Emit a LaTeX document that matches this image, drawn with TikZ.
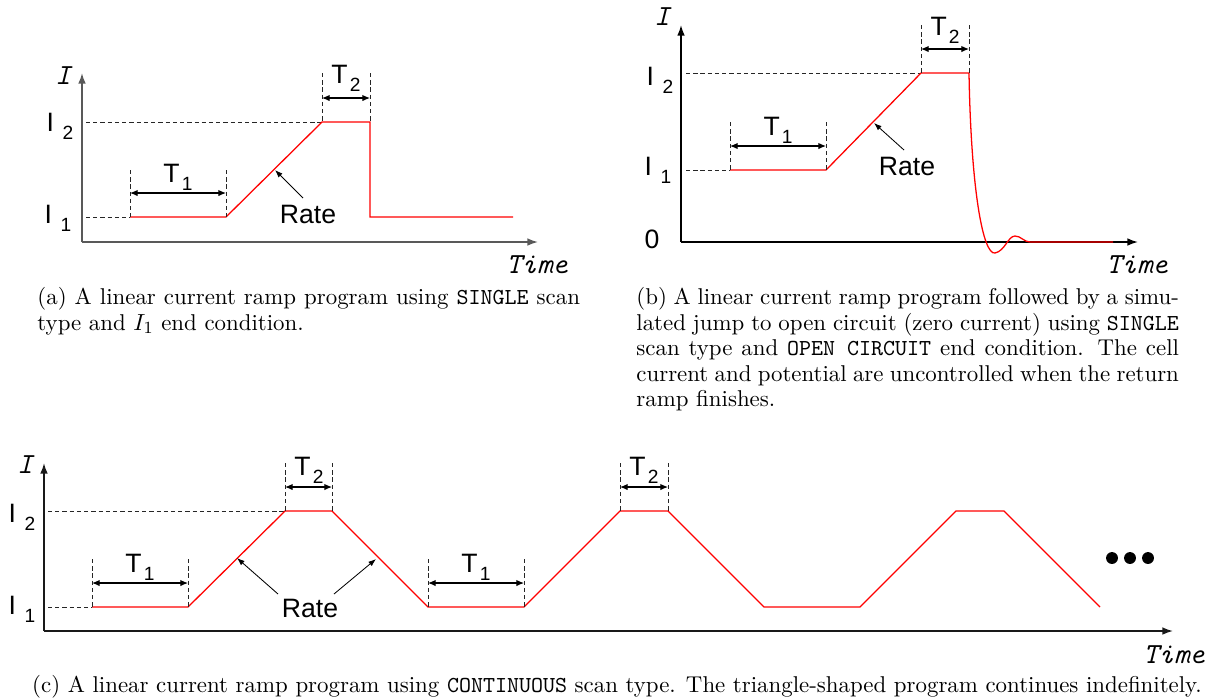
\documentclass[tikz,border=0pt]{standalone}
\usepackage{fontspec}
\usetikzlibrary{arrows.meta}
\newfontfamily\lsans{Liberation Sans}
\setlength\parindent{0pt}
\newcommand\sublab[3]{#1\hspace{#3}\raisebox{-4pt}{\fontsize{9}{10}\selectfont #2}}
\begin{document}
\begin{tikzpicture}[x=0.47pt,y=-0.47pt,
  axis/.style={line width=0.75pt,-{Latex[length=5pt,width=3.6pt]}},
  sig/.style={red,line width=0.6pt},
  guide/.style={dash pattern=on 2pt off 1.4pt,line width=0.4pt,black!85},
  span/.style={{Latex[length=3.6pt,width=3pt]}-{Latex[length=3.6pt,width=3pt]},line width=0.5pt},
  pointer/.style={-{Latex[length=3.6pt,width=2.6pt]},line width=0.4pt},
  lab/.style={font=\lsans\fontsize{12.5}{14}\selectfont,inner sep=0pt,anchor=base},
  axlab/.style={font=\ttfamily\itshape\fontsize{13.7}{15}\selectfont,inner sep=0pt},
  captext/.style={font=\fontsize{10.75}{12}\selectfont,inner sep=0pt,anchor=north west,text width=255pt,align=justify},
  dot/.style={circle,fill=black,inner sep=0pt,minimum size=5.6pt}]
\useasboundingbox (0,0) rectangle (1207,698);

% ================= panel (a) =================
\coordinate (ao) at (82,242);
\coordinate (ay) at (82,73);
\coordinate (ax) at (538,242);
\draw[axis,black!65] (ao) -- (ay);
\draw[axis,black!65] (ao) -- (ax);
\node[axlab] (aI) at (63,76) {I};
\node[axlab] (aT) at (537,265) {Time};
\coordinate (a1) at (130,217);
\coordinate (a2) at (226,217);
\coordinate (a3) at (322,122);
\coordinate (a4) at (370,122);
\coordinate (a5) at (370,217);
\coordinate (a6) at (513,217);
\draw[guide] (86,122) -- (a3);
\draw[guide] (86,217) -- (a1);
\draw[sig] (a1) -- (a2) -- (a3) -- (a4) -- (a5) -- (a6);
\node[lab] (aI2) at (60,131) {\sublab{I}{2}{4pt}};
\node[lab] (aI1) at (58,223) {\sublab{I}{1}{4pt}};
% T1
\coordinate (aT1l) at (130,170); \coordinate (aT1r) at (226,170);
\draw[guide] (aT1l) -- (a1); \draw[guide] (aT1r) -- (a2);
\draw[span] (130,193) -- (226,193);
\node[lab] (aT1) at (178,182) {\sublab{T}{1}{1pt}};
% T2
\coordinate (aT2l) at (322,73); \coordinate (aT2r) at (370,73);
\draw[guide] (aT2l) -- (a3); \draw[guide] (aT2r) -- (a4);
\draw[span] (322,98) -- (370,98);
\node[lab] (aT2) at (346,83) {\sublab{T}{2}{1pt}};
% Rate
\node[lab] (aR) at (308,223) {Rate};
\coordinate (aRt) at (303,198); \coordinate (aRh) at (275,170);
\draw[pointer] (aRt) -- (aRh);
\node[captext] (acap) at (37,287) {(a) A linear current ramp program using \texttt{SINGLE} scan type and $I_1$ end condition.};

% ================= panel (b) =================
\coordinate (bo) at (681,242);
\coordinate (by) at (681,25);
\coordinate (bx) at (1138,242);
\draw[axis,black] (bo) -- (by);
\draw[axis,black] (bo) -- (bx);
\node[axlab] (bI) at (662,17) {I};
\node[axlab] (bT) at (1137,265) {Time};
\coordinate (b1) at (730,170);
\coordinate (b2) at (826,170);
\coordinate (b3) at (921,73);
\coordinate (b4) at (969,73);
\coordinate (b5) at (1030,242);
\coordinate (b6) at (1113,242);
\draw[guide] (686,73) -- (b3);
\draw[guide] (686,170) -- (b1);
\draw[sig] (b1) -- (b2) -- (b3) -- (b4)
  .. controls (971,190) and (983,255) .. (995,253)
  .. controls (1005,251) and (1008,236) .. (1015,236)
  .. controls (1021,236) and (1024,242) .. (b5) -- (b6);
\node[lab] (bI2) at (660,85) {\sublab{I}{2}{4pt}};
\node[lab] (bI1) at (658,175) {\sublab{I}{1}{4pt}};
\node[lab] (b0) at (652,248) {0};
\coordinate (bT1l) at (730,122); \coordinate (bT1r) at (826,122);
\draw[guide] (bT1l) -- (b1); \draw[guide] (bT1r) -- (b2);
\draw[span] (730,146) -- (826,146);
\node[lab] (bT1) at (778,135) {\sublab{T}{1}{1pt}};
\coordinate (bT2l) at (921,25); \coordinate (bT2r) at (969,25);
\draw[guide] (bT2l) -- (b3); \draw[guide] (bT2r) -- (b4);
\draw[span] (921,49) -- (969,49);
\node[lab] (bT2) at (945,35) {\sublab{T}{2}{1pt}};
\node[lab] (bR) at (907,175) {Rate};
\coordinate (bRt) at (904,150); \coordinate (bRh) at (874,123);
\draw[pointer] (bRt) -- (bRh);
\node[captext] (bcap) at (636,287) {(b) A linear current ramp program followed by a simulated jump to open circuit (zero current) using \texttt{SINGLE} scan type and \texttt{OPEN CIRCUIT} end condition. The cell current and potential are uncontrolled when the return ramp finishes.};

% ================= panel (c) =================
\coordinate (co) at (44,631);
\coordinate (cy) at (44,463);
\coordinate (cx) at (1173,631);
\draw[axis,black!90] (co) -- (cy);
\draw[axis,black!90] (co) -- (cx);
\node[axlab] (cI) at (25,465) {I};
\node[axlab] (cT) at (1174,655) {Time};
\coordinate (c1) at (92,607);
\coordinate (c2) at (188,607);
\coordinate (c3) at (285,511);
\coordinate (c4) at (332,511);
\coordinate (c5) at (428,607);
\coordinate (c6) at (524,607);
\coordinate (c7) at (620,511);
\coordinate (c8) at (668,511);
\coordinate (c9) at (764,607);
\coordinate (c10) at (860,607);
\coordinate (c11) at (956,511);
\coordinate (c12) at (1004,511);
\coordinate (c13) at (1100,607);
\draw[guide] (48,511) -- (c3);
\draw[guide] (48,607) -- (c1);
\draw[sig] (c1) -- (c2) -- (c3) -- (c4) -- (c5) -- (c6) -- (c7) -- (c8) -- (c9) -- (c10) -- (c11) -- (c12) -- (c13);
\node[lab] (cI2) at (22,522) {\sublab{I}{2}{4pt}};
\node[lab] (cI1) at (22,614) {\sublab{I}{1}{4pt}};
% T1 (1st)
\coordinate (cT1l) at (92,559); \coordinate (cT1r) at (188,559);
\draw[guide] (cT1l) -- (c1); \draw[guide] (cT1r) -- (c2);
\draw[span] (92,583) -- (188,583);
\node[lab] (cT1) at (140,572) {\sublab{T}{1}{1pt}};
% T2 (1st)
\coordinate (cT2l) at (285,463); \coordinate (cT2r) at (332,463);
\draw[guide] (cT2l) -- (c3); \draw[guide] (cT2r) -- (c4);
\draw[span] (285,487) -- (332,487);
\node[lab] (cT2) at (309,475) {\sublab{T}{2}{1pt}};
% T1 (2nd)
\coordinate (cT1bl) at (428,559); \coordinate (cT1br) at (524,559);
\draw[guide] (cT1bl) -- (c5); \draw[guide] (cT1br) -- (c6);
\draw[span] (428,583) -- (524,583);
\node[lab] (cT1b) at (476,572) {\sublab{T}{1}{1pt}};
% T2 (2nd)
\coordinate (cT2bl) at (620,463); \coordinate (cT2br) at (668,463);
\draw[guide] (cT2bl) -- (c7); \draw[guide] (cT2br) -- (c8);
\draw[span] (620,487) -- (668,487);
\node[lab] (cT2b) at (644,475) {\sublab{T}{2}{1pt}};
% Rate
\node[lab] (cR) at (310,617) {Rate};
\coordinate (cRt1) at (278,594); \coordinate (cRh1) at (237,558);
\coordinate (cRt2) at (334,594); \coordinate (cRh2) at (376,559);
\draw[pointer] (cRt1) -- (cRh1);
\draw[pointer] (cRt2) -- (cRh2);
% dots
\node[dot] (d1) at (1112,558) {};
\node[dot] (d2) at (1130,558) {};
\node[dot] (d3) at (1148,558) {};
\node[font=\fontsize{10.75}{12}\selectfont,inner sep=0pt,anchor=base] (ccap) at (617,692) {(c) A linear current ramp program using \texttt{CONTINUOUS} scan type. The triangle-shaped program continues indefinitely.};
\end{tikzpicture}
\end{document}
